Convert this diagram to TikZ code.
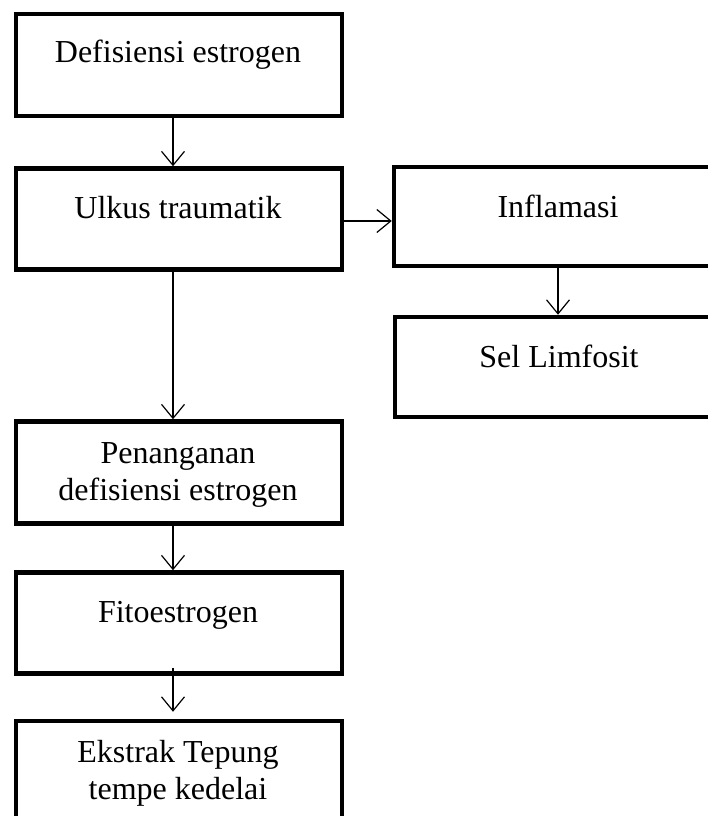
\documentclass[tikz,border=0pt]{standalone}
\usepackage{fontspec}
\setmainfont{Liberation Serif}
\usetikzlibrary{arrows.meta}
\begin{document}
\begin{tikzpicture}[x=1pt,y=-1pt,
  box/.style={draw=black,line width=4.5pt,inner sep=0pt,minimum width=#1},
  box/.default=326pt,
  txt/.style={anchor=base,inner sep=0pt,font=\fontsize{32}{37}\selectfont},
  conn/.style={line width=1.2pt,-{Straight Barb[length=14pt,width=23pt,line width=1.2pt]}}]
\path[use as bounding box] (0,0) rectangle (708,816);
\fill[white] (0,0) rectangle (708,816);
\clip (0,0) rectangle (708,816);
% boxes
\node[box,minimum height=102pt] (b1) at (179,65) {};
\node[box,minimum height=101pt] (b2) at (179,219) {};
\node[box=328pt,minimum height=99pt] (b3) at (558,216.5) {};
\node[box=326pt,minimum height=100pt] (b4) at (558,367) {};
\node[box,minimum height=102pt] (b5) at (179,472.5) {};
\node[box,minimum height=101pt] (b6) at (179,623) {};
\node[box,minimum height=102pt] (b7) at (179,772) {};
% texts
\node[txt] (t1) at (178,63) {Defisiensi estrogen};
\node[txt] (t2) at (178,218) {Ulkus traumatik};
\node[txt] (t3) at (558,217) {Inflamasi};
\node[txt] (t4) at (559,367) {Sel Limfosit};
\node[txt] (t5) at (178,463) {\begin{tabular}[t]{@{}c@{}}Penanganan\\defisiensi estrogen\end{tabular}};
\node[txt] (t6) at (178,622) {Fitoestrogen};
\node[txt] (t7) at (178,762) {\begin{tabular}[t]{@{}c@{}}Ekstrak Tepung\\tempe kedelai\end{tabular}};
% connectors
\coordinate (yh) at (0,221);
\draw[conn] ([xshift=-6pt]b1.south) -- ([xshift=-6pt]b2.north);
\draw[conn] (b2.east |- yh) -- (b3.west |- yh);
\draw[conn] (b3.south) -- (b4.north);
\draw[conn] ([xshift=-6pt]b2.south) -- ([xshift=-6pt]b5.north);
\draw[conn] ([xshift=-6pt]b5.south) -- ([xshift=-6pt]b6.north);
\draw[conn] ([xshift=-6pt,yshift=8pt]b6.south) -- ([xshift=-6pt,yshift=7pt]b7.north);
\end{tikzpicture}
\end{document}
